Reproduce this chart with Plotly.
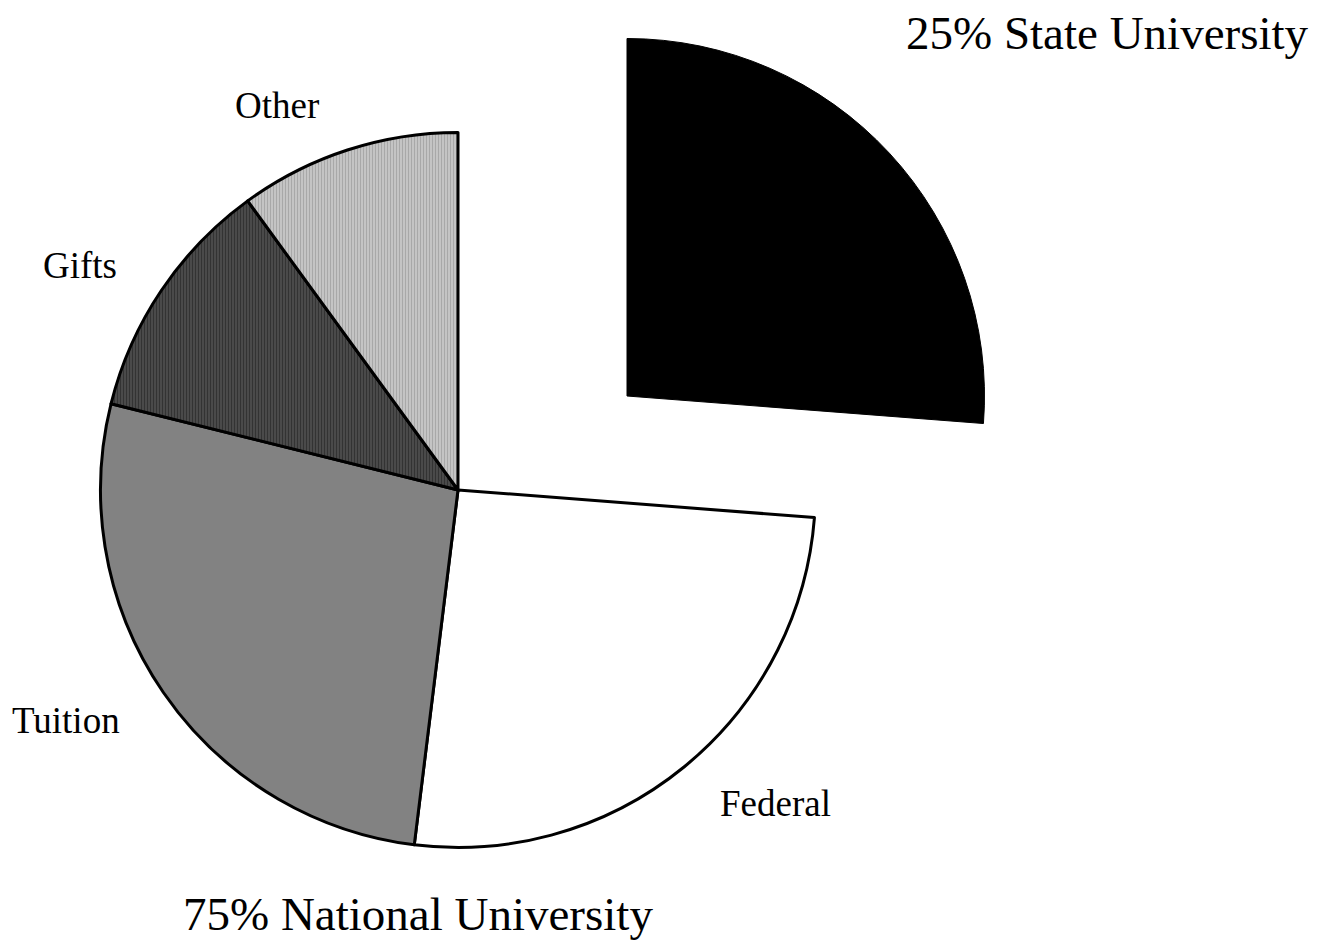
import plotly.graph_objects as go

labels = ["State", "Federal", "Tuition", "Gifts", "Other"]
values = [26.2, 25.7, 26.9, 11.1, 10.0]
slice_labels = ["Federal", "Tuition", "Gifts", "Other"]
title_state = "25% State University"
title_national = "75% National University"

W, H = 1321, 943
OFF = 8  # page body margin offset


def px(x):
    return (x - OFF) / W


def py(y):
    return 1 - (y - OFF) / H


# National pie (State slice hidden)
nat_colors = ["rgba(0,0,0,0)", "#ffffff", "#828282", "#4a4a4a", "#c4c4c4"]
nat_line_w = [0, 3, 3, 3, 3]
pattern = dict(
    shape=["", "", "", "|", "|"],
    fgcolor=["#000000", "#000000", "#777777", "#333333", "#a8a8a8"],
    bgcolor=nat_colors,
    size=3,
    solidity=0.35,
    fillmode="replace",
)

fig = go.Figure()
fig.add_trace(go.Pie(
    labels=labels, values=values, sort=False, direction="clockwise", rotation=0,
    textinfo="none", hoverinfo="label+percent", showlegend=False,
    marker=dict(colors=nat_colors, line=dict(color="#000000", width=nat_line_w), pattern=pattern),
    domain=dict(x=[px(100.5), px(815.5)], y=[py(847.5), py(132.5)]),
))

# Exploded State slice
st_colors = ["#000000", "rgba(0,0,0,0)", "rgba(0,0,0,0)", "rgba(0,0,0,0)", "rgba(0,0,0,0)"]
fig.add_trace(go.Pie(
    labels=labels, values=values, sort=False, direction="clockwise", rotation=0,
    textinfo="none", hoverinfo="label+percent", showlegend=False,
    marker=dict(colors=st_colors, line=dict(color="#000000", width=[1, 0, 0, 0, 0])),
    domain=dict(x=[px(269.5), px(984.5)], y=[py(753.5), py(38.5)]),
))

label_pos = {"Federal": (775, 803), "Tuition": (66, 720), "Gifts": (80, 265), "Other": (277, 105)}
annotations = []
for lab in slice_labels:
    x, y = label_pos[lab]
    annotations.append(dict(text=lab, x=px(x), y=py(y), xref="paper", yref="paper",
                            showarrow=False, xanchor="center", yanchor="middle",
                            font=dict(family="Liberation Serif", size=37, color="#000000")))
annotations.append(dict(text=title_state, x=px(1107), y=py(33), xref="paper", yref="paper",
                        showarrow=False, xanchor="center", yanchor="middle",
                        font=dict(family="Liberation Serif", size=47, color="#000000")))
annotations.append(dict(text=title_national, x=px(418), y=py(914), xref="paper", yref="paper",
                        showarrow=False, xanchor="center", yanchor="middle",
                        font=dict(family="Liberation Serif", size=47, color="#000000")))

fig.update_layout(
    width=W, height=H, margin=dict(l=0, r=0, t=0, b=0),
    paper_bgcolor="#ffffff", plot_bgcolor="#ffffff",
    annotations=annotations,
)
fig.write_html("out.html")
